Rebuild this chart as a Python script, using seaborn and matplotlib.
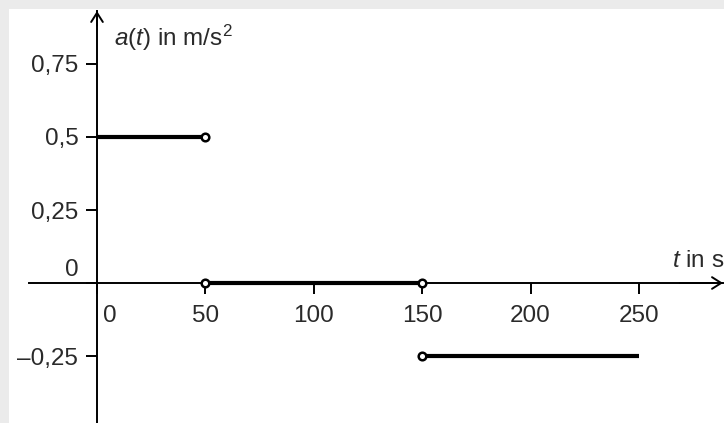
import matplotlib
matplotlib.use("Agg")
import matplotlib.pyplot as plt
import matplotlib.transforms as mtransforms
import seaborn as sns
import pandas as pd

# ---- data ----
seg_start = [0, 50, 150]
seg_end = [50, 150, 250]
seg_value = [0.5, 0.0, -0.25]
open_t = [50, 50, 150, 150]
open_a = [0.5, 0.0, 0.0, -0.25]
xticks = [0, 50, 100, 150, 200, 250]
xtick_labels = ["0", "50", "100", "150", "200", "250"]
yticks = [-0.25, 0, 0.25, 0.5, 0.75]
ytick_labels = ["\u20130,25", "0", "0,25", "0,5", "0,75"]

sns.set_theme(style="white")
plt.rcParams["font.family"] = ["Liberation Sans", "DejaVu Sans"]
plt.rcParams["mathtext.fontset"] = "custom"
plt.rcParams["mathtext.rm"] = "Liberation Sans"
plt.rcParams["mathtext.it"] = "Liberation Sans:italic"

FS = 17.5
TXT = "#2a2a2a"

W, H = 724, 423
fig = plt.figure(figsize=(W / 100, H / 100), dpi=100, facecolor="#ebebeb")
ax = fig.add_axes([9 / W, 0, (W - 9) / W, (H - 9) / H])
ax.set_facecolor("white")

px_per_t = 2.168
px_per_a = 292.0
x0_px, y0_px = 97, 283
ax.set_xlim((9 - x0_px) / px_per_t, (W - x0_px) / px_per_t)
ax.set_ylim(-(H - y0_px) / px_per_a, (y0_px - 9) / px_per_a)

rows = []
for i, (s, e, v) in enumerate(zip(seg_start, seg_end, seg_value)):
    rows.append({"t": s, "a": v, "seg": i})
    rows.append({"t": e, "a": v, "seg": i})
df = pd.DataFrame(rows)
sns.lineplot(data=df, x="t", y="a", units="seg", estimator=None, color="black",
             lw=3.0, ax=ax, legend=False, solid_capstyle="butt", zorder=3)
sns.scatterplot(x=open_t, y=open_a, s=30, marker="o", facecolor="white",
                edgecolor="black", linewidth=1.8, ax=ax, zorder=4, legend=False)

# axes through origin
for side in ["top", "right"]:
    ax.spines[side].set_visible(False)
ax.spines["left"].set_position(("data", 0))
ax.spines["bottom"].set_position(("data", 0))
for side in ["left", "bottom"]:
    ax.spines[side].set_linewidth(1.4)
    ax.spines[side].set_color("black")
ytop = (y0_px - 11) / px_per_a
xleft = (29 - x0_px) / px_per_t
xright = (723 - x0_px) / px_per_t
ax.spines["left"].set_bounds(ax.get_ylim()[0], ytop)
ax.spines["bottom"].set_bounds(xleft, xright)

arrow_style = "->,head_length=0.55,head_width=0.35"
ax.annotate("", xy=(0, ytop), xytext=(0, ytop - 0.05),
            arrowprops=dict(arrowstyle=arrow_style, lw=1.4, color="black",
                            shrinkA=0, shrinkB=0), annotation_clip=False)
ax.annotate("", xy=(xright, 0), xytext=(xright - 20, 0),
            arrowprops=dict(arrowstyle=arrow_style, lw=1.4, color="black",
                            shrinkA=0, shrinkB=0), annotation_clip=False)

ax.set_xticks(xticks)
ax.set_xticklabels(xtick_labels)
ax.set_yticks(yticks)
ax.set_yticklabels(ytick_labels)
ax.tick_params(axis="both", which="both", labelsize=FS, colors="black", labelcolor=TXT,
               width=1.4, length=8, bottom=True, left=True)
ax.tick_params(axis="x", direction="out", pad=8)
ax.tick_params(axis="y", direction="out", pad=5.5)
ax.set_xlabel("")
ax.set_ylabel("")

# shift the zero labels off the axes
for lab in ax.get_xticklabels():
    if lab.get_text() == "0":
        lab.set_transform(lab.get_transform() + mtransforms.ScaledTranslation(13 / 100, 0, fig.dpi_scale_trans))
for lab in ax.get_yticklabels():
    if lab.get_text() == "0":
        lab.set_transform(lab.get_transform() + mtransforms.ScaledTranslation(0, 15 / 100, fig.dpi_scale_trans))

ax.text((114 - x0_px) / px_per_t, (y0_px - 46) / px_per_a, r"$a$($t$) in m/s$^2$",
        fontsize=FS, ha="left", va="baseline", color=TXT)
ax.text((672 - x0_px) / px_per_t, (y0_px - 267) / px_per_a, r"$t$ in s",
        fontsize=FS, ha="left", va="baseline", color=TXT, clip_on=False)

fig.savefig("out.png", dpi=100, facecolor=fig.get_facecolor())
